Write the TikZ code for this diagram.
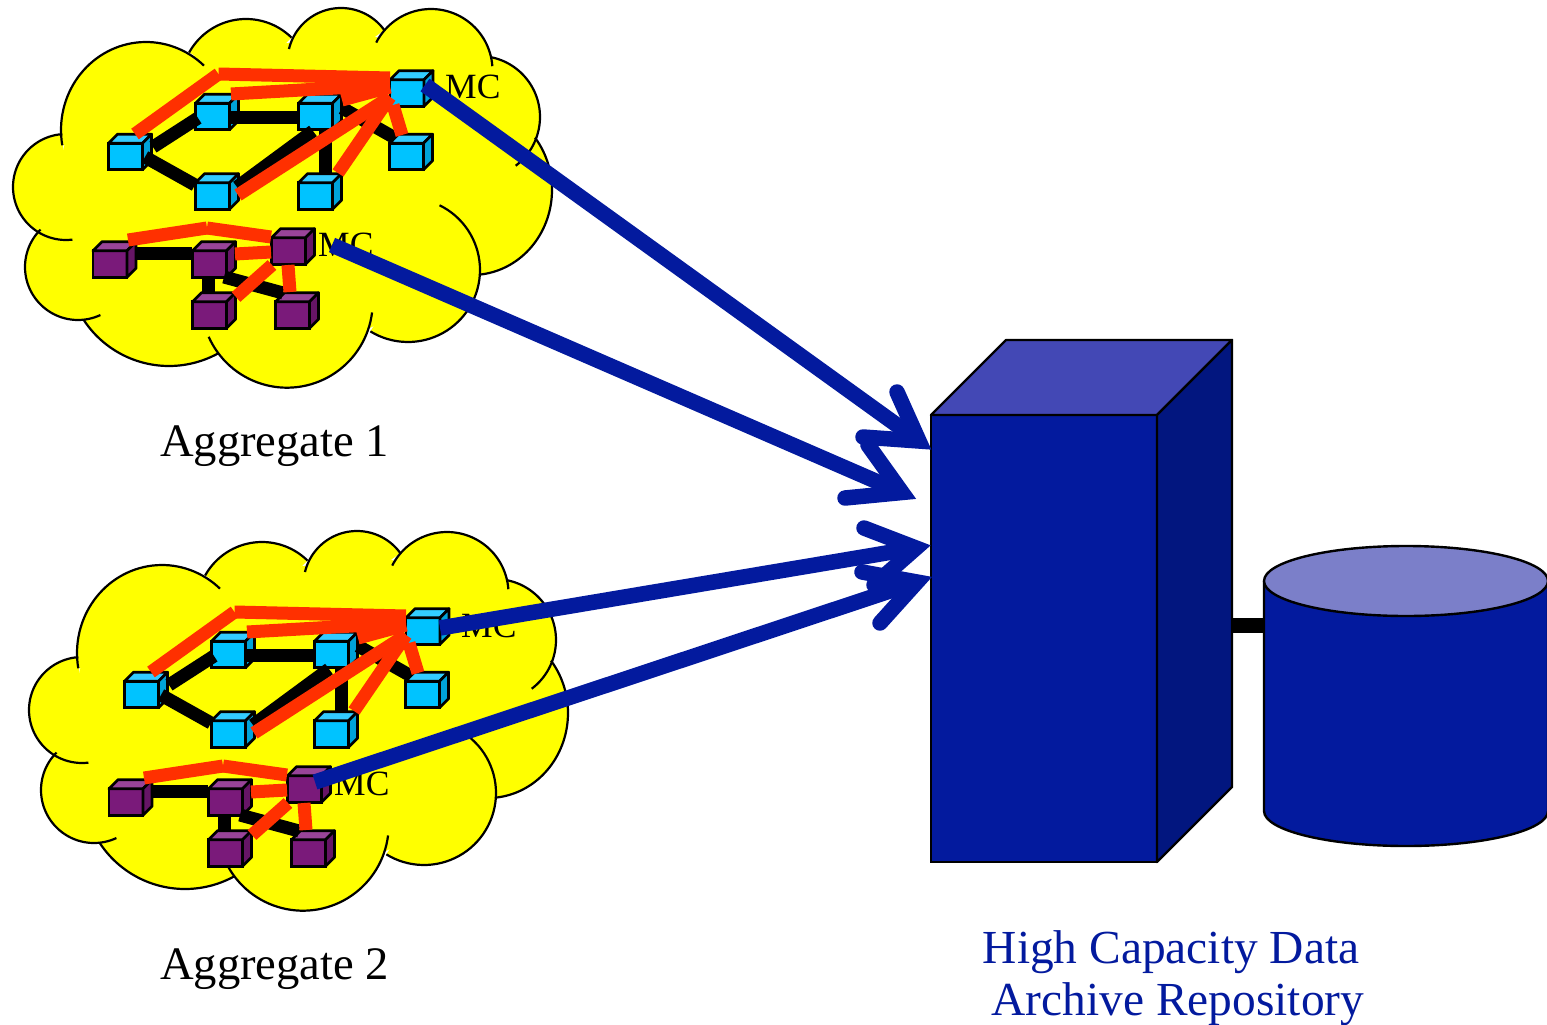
\documentclass[tikz,border=0pt]{standalone}
\usepackage{fontspec}
\setmainfont{Liberation Serif}
\definecolor{cy}{HTML}{00C3FF}\definecolor{cyt}{HTML}{33CCFF}\definecolor{cys}{HTML}{00A3D9}
\definecolor{pu}{HTML}{7A1A7A}\definecolor{put}{HTML}{994499}\definecolor{pus}{HTML}{661566}
\definecolor{nv}{HTML}{031A9E}\definecolor{nvt}{HTML}{4348B5}\definecolor{nvs}{HTML}{02167F}
\definecolor{cyl}{HTML}{7B7FC9}\definecolor{rd}{HTML}{FF3000}\definecolor{yl}{HTML}{FFFF00}
\tikzset{
 cubefront/.style={draw=black,line width=2.8pt,minimum width=34pt,minimum height=26.5pt,inner sep=0pt,outer sep=0pt},
 cubeface/.style={draw=black,line width=2.8pt,line join=round},
 blk/.style={line width=13pt,black},
 red link/.style={line width=13pt,rd},
 bar/.style={line width=15.5pt,nv,line cap=round,line join=miter,miter limit=20},
 shaft/.style={line width=15.5pt,nv},
 lab/.style={anchor=base west,inner sep=0pt,font=\fontsize{46.6}{50}\selectfont},
 mc/.style={anchor=base west,inner sep=0pt,font=\fontsize{35.5}{38}\selectfont},
 reptext/.style={anchor=base,inner sep=0pt,text=nv,font=\fontsize{47.4}{50}\selectfont},
 solid face/.style={draw=black,line width=2.4pt,line join=round},
}
\newcommand\cubeat[6]{%
 \node[cubefront,fill=#4] (#1) at (#2,#3) {};
 \draw[cubeface,fill=#5] (#1.north west) -- ++(9,-9) -- ++(34,0) -- (#1.north east) -- cycle;
 \draw[cubeface,fill=#6] (#1.north east) -- ++(9,-9) -- ++(0,26.5) -- (#1.south east) -- cycle;
}
\newcommand\lobedata{146/130/85/88/190/47,246/84/65/65/151/45.6,341/61.5/53.5/53.5/166.5/36,431/70.5/61.5/61.5/153/4,479/117/61/61/79/-53,472/190/80/85/38/-85,408/270/72/72/64/-121.5,287/302/85.7/85.7/-7/-156,169/264/102/102/-60.7/-147,78/267/53/53/-65/-225,66/187/53/53/-83/-266}
\newcommand\cloudshape{%
 \fill[yl] (66,138)--(191,56)--(288,43)--(371,36)--(488,63)--(525,138)--(476,272)--(370,328)--(216,345)--(92,317)--(44,234)--cycle;
 \foreach \cxx/\cyy/\rxx/\ryy/\sa/\ea in \lobedata {
  \fill[yl] plot[domain=\sa:\ea,samples=50] ({\cxx+\rxx*cos(\x)},{\cyy-\ryy*sin(\x)}) -- (\cxx,\cyy) -- cycle;
 }
 \foreach \cxx/\cyy/\rxx/\ryy/\sa/\ea in \lobedata {
  \draw[line width=2.2pt] plot[domain=\sa:\ea,samples=50] ({\cxx+\rxx*cos(\x)},{\cyy-\ryy*sin(\x)});
 }}
\newcommand\cubegroup{%
 \cubeat{b1}{125.5}{156.5}{cy}{cyt}{cys}
 \cubeat{b2}{212.5}{116.5}{cy}{cyt}{cys}
 \cubeat{b3}{315.5}{116.5}{cy}{cyt}{cys}
 \cubeat{b4}{212.5}{196}{cy}{cyt}{cys}
 \cubeat{b5}{315.5}{196}{cy}{cyt}{cys}
 \cubeat{b6}{406.5}{156.5}{cy}{cyt}{cys}
 \cubeat{mb}{407}{93}{cy}{cyt}{cys}
 \cubeat{p1}{110}{264}{pu}{put}{pus}
 \cubeat{p2}{209.5}{264}{pu}{put}{pus}
 \cubeat{pm}{288.5}{251}{pu}{put}{pus}
 \cubeat{p3}{209.5}{315}{pu}{put}{pus}
 \cubeat{p4}{292.5}{315}{pu}{put}{pus}
 \draw[blk] ([shift={(27.5,-9.5)}]b1.center) -- ([shift={(-14.5,1.5)}]b2.center);
 \draw[blk] ([shift={(19.5,.5)}]b1.center) -- ([shift={(-17.5,-11)}]b4.center);
 \draw[blk] ([shift={(17.5,.5)}]b2.center) -- ([shift={(-17.5,.5)}]b3.center);
 \draw[blk] ([shift={(-2.5,14.5)}]b3.center) -- ([shift={(24.5,-9)}]b4.center);
 \draw[blk] ([shift={(9.5,13.5)}]b3.center) -- ([shift={(9.5,-23)}]b5.center);
 \draw[blk] ([shift={(26.5,-8.5)}]b3.center) -- ([shift={(-11.5,-18.5)}]b6.center);
 \draw[blk] ([shift={(27,-11)}]p1.center) -- ([shift={(-17.5,-11)}]p2.center);
 \draw[blk] ([shift={(-1.5,13)}]p2.center) -- ([shift={(-1.5,-23)}]p3.center);
 \draw[blk] ([shift={(14.5,13)}]p2.center) -- ([shift={(-9.5,-22)}]p4.center);
 \coordinate (k1) at (218.5,74);
 \coordinate (k2) at (207,228);
 \draw[red link] ([shift={(9.5,-22.5)}]b1.center) -- (k1);
 \draw[red link] (k1) -- ([shift={(-17,-15)}]mb.center);
 \draw[red link] ([shift={(18.5,-22.5)}]b2.center) -- ([shift={(-17,-8)}]mb.center);
 \draw[red link] ([shift={(26.5,-16.5)}]b3.center) -- ([shift={(-17,-6)}]mb.center);
 \draw[red link] ([shift={(25.5,-1)}]b4.center) -- ([shift={(-17,4)}]mb.center);
 \draw[red link] ([shift={(22.5,-23)}]b5.center) -- ([shift={(-17,4)}]mb.center);
 \draw[red link] ([shift={(-4.5,-21.5)}]b6.center) -- ([shift={(-14,12)}]mb.center);
 \draw[red link] ([shift={(18,-24)}]p1.center) -- (k2);
 \draw[red link] (k2) -- ([shift={(-17.5,-14)}]pm.center);
 \draw[red link] ([shift={(25.5,-10)}]p2.center) -- ([shift={(-17.5,1)}]pm.center);
 \draw[red link] ([shift={(26.5,-18)}]p3.center) -- ([shift={(-16.5,14)}]pm.center);
 \draw[red link] ([shift={(-.5,14)}]pm.center) -- ([shift={(-2.5,-23)}]p4.center);
}
\begin{document}
\begin{tikzpicture}[x=1pt,y=-1pt]
\useasboundingbox (0,0) rectangle (1547,1025);
% aggregate 1
\cloudshape
\begin{scope}[name prefix=a-]
 \cubegroup
\end{scope}
\node[mc] (mca1) at (445,99) {MC};
\node[mc] (mca2) at (318,256) {MC};
\node[lab] (ag1) at (160,456) {Aggregate 1};
% aggregate 2
\begin{scope}[shift={(16,523)}]
 \cloudshape
\end{scope}
\begin{scope}[shift={(16,538)},name prefix=c-]
 \cubegroup
\end{scope}
\node[mc] (mcb1) at (461,637) {MC};
\node[mc] (mcb2) at (334,795) {MC};
\node[lab] (ag2) at (160,979) {Aggregate 2};
% repository
\draw[line width=15pt] (1232,625) -- (1264,625);
\node[draw=black,line width=2.4pt,fill=nv,minimum width=226pt,minimum height=447pt,inner sep=0pt,outer sep=0pt] (server) at (1044,638.5) {};
\draw[solid face,fill=nvt] (server.north west) -- (1006,340) -- (1232,340) -- (server.north east) -- cycle;
\draw[solid face,fill=nvs] (server.north east) -- (1232,340) -- (1232,787) -- (server.south east) -- cycle;
\draw[solid face,fill=nv] (1264,581) -- (1264,811) arc[start angle=180,end angle=360,x radius=142,y radius=-35] -- (1548,581);
\draw[solid face,fill=cyl] (1406,581) ellipse[x radius=142,y radius=35];
\node[reptext] (rep1) at (1171,963) {High Capacity Data};
\node[reptext] (rep2) at (1178,1015) {Archive Repository};
% arrows
\coordinate (t1) at (919,441);
\coordinate (t2) at (902,492.5);
\coordinate (t3) at (916,548);
\coordinate (t4) at (917,582);
\draw[shaft] ([shift={(18,-8)}]a-mb.center) -- (t1);
\draw[shaft] ([shift={(43.5,-6)}]a-pm.center) -- (t2);
\draw[shaft] ([shift={(17,-3)}]c-mb.center) -- (t3);
\draw[shaft] ([shift={(10.5,-7)}]c-pm.center) -- (t4);
\draw[bar] (897,392) -- (t1) -- (863,437);
\draw[bar] (868,445) -- (t2) -- (845,498);
\draw[bar] (864,528) -- (t3) -- (874,585);
\draw[bar] (862,572) -- (t4) -- (880,623);
\end{tikzpicture}
\end{document}
